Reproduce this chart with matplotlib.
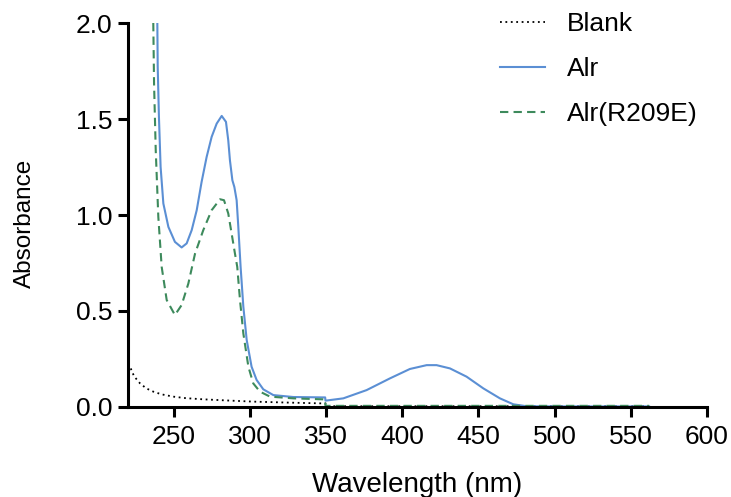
import matplotlib
matplotlib.use("Agg")
import matplotlib.pyplot as plt

plt.rcParams['font.family'] = ['Liberation Sans', 'DejaVu Sans']

# Blank
blank_wl = [220, 221.3, 224, 227.9, 232, 236.6, 242, 249.7, 258, 269.4, 285, 302.2, 325, 346, 349.5, 350, 400, 450, 500, 562]
blank_a = [0.225, 0.21, 0.16, 0.123, 0.097, 0.080, 0.066, 0.054, 0.046, 0.040, 0.034, 0.028, 0.023, 0.019, 0.019, 0.004, 0.004, 0.004, 0.004, 0.004]

# Alr
alr_wl = [239.25, 239.5, 240.3, 241.4, 243.2, 246.5, 250.8, 255.2, 258.5, 261.8, 265.1, 268.3, 271.6,
          274.9, 278.2, 281.5, 284.3, 285.8, 286.9, 288.5, 289.8, 291.3, 292.4, 293.9, 295.7, 297.9,
          301.1, 304.4, 308.8, 315.4, 328.5, 347.7, 349.4, 349.6, 361.3, 376.6, 391.9, 405.0, 416.0,
          422.5, 431.3, 442.2, 453.2, 464.1, 472.9, 481.6, 500, 530, 562]
alr_a = [2.0, 1.771, 1.511, 1.250, 1.060, 0.938, 0.860, 0.831, 0.852, 0.921, 1.025, 1.172, 1.302,
         1.407, 1.476, 1.516, 1.485, 1.389, 1.285, 1.181, 1.146, 1.077, 0.938, 0.730, 0.522, 0.349,
         0.210, 0.141, 0.092, 0.062, 0.052, 0.050, 0.050, 0.033, 0.045, 0.088, 0.149, 0.198, 0.218,
         0.218, 0.201, 0.158, 0.097, 0.045, 0.014, 0.004, 0.003, 0.003, 0.003]

# Alr(R209E)
mut_wl = [236.6, 237.1, 238.2, 239.9, 242.1, 245.4, 250.8, 255.2, 259.6, 264.0, 269.4, 274.9, 280.4,
          283.0, 285.8, 288.0, 290.2, 291.7, 293.5, 295.7, 299.0, 302.2, 306.6, 313.2, 328.5, 347.7,
          349.4, 349.6, 400, 450, 500, 562]
mut_a = [2.0, 1.684, 1.337, 0.990, 0.730, 0.557, 0.479, 0.531, 0.643, 0.799, 0.921, 1.025, 1.082,
         1.077, 1.008, 0.904, 0.799, 0.730, 0.557, 0.383, 0.210, 0.123, 0.080, 0.054, 0.045, 0.040,
         0.040, 0.006, 0.006, 0.006, 0.006, 0.006]

x_ticks = [250, 300, 350, 400, 450, 500, 550, 600]
y_ticks = [0.0, 0.5, 1.0, 1.5, 2.0]

fig = plt.figure(figsize=(7.31, 4.97), dpi=100)
ax = fig.add_axes([128/731, 1 - 407/497, (707 - 128)/731, (407 - 23)/497])

ax.plot(blank_wl, blank_a, color='black', linestyle=(0, (1, 2)), linewidth=1.3, label='Blank')
ax.plot(alr_wl, alr_a, color='#5b8fd4', linestyle='-', linewidth=1.5, label='Alr')
ax.plot(mut_wl, mut_a, color='#3d8a5c', linestyle=(0, (4, 2.5)), linewidth=1.5, label='Alr(R209E)')

ax.set_xlim(220, 600)
ax.set_ylim(0, 2.0)
ax.set_xticks(x_ticks)
ax.set_yticks(y_ticks)
ax.set_yticklabels([f"{v:.1f}" for v in y_ticks])

for s in ['top', 'right']:
    ax.spines[s].set_visible(False)
for s in ['left', 'bottom']:
    ax.spines[s].set_linewidth(2.2)
ax.tick_params(axis='both', direction='out', length=7, width=2.2, labelsize=19)
ax.tick_params(axis='x', pad=6)
ax.tick_params(axis='y', pad=4)

ax.set_xlabel('Wavelength (nm)', fontsize=20)
ax.set_ylabel('Absorbance', fontsize=17.5)
ax.xaxis.set_label_coords(0.5, -(472 - 407) / 384)
ax.yaxis.set_label_coords(-(128 - 36) / 579, 0.479)

leg = fig.legend(loc='upper left', bbox_to_anchor=(500/731, 1 - 12/497), frameon=False,
                 fontsize=19, handlelength=1.7, handletextpad=0.83, labelspacing=0.8,
                 borderpad=0, borderaxespad=0)

fig.savefig('out.png', dpi=100)
